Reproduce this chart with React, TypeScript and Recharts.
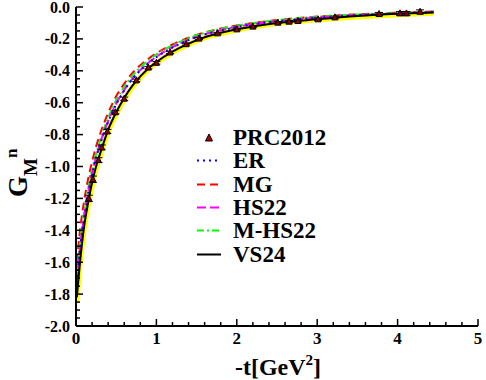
import React from 'react';
import { ComposedChart, Line, Scatter, ErrorBar, XAxis, YAxis, Legend } from 'recharts';

// -t grid (GeV^2) used by all model curves
const tGrid = [0.01, 0.05, 0.1, 0.15, 0.2, 0.25, 0.3, 0.4, 0.5, 0.6, 0.7, 0.8, 0.9, 1.0, 1.2, 1.4, 1.6, 1.8, 2.0, 2.5, 3.0, 3.5, 4.0, 4.45];

const bandValues = [-1.85, -1.62, -1.4, -1.25, -1.125, -1.015, -0.935, -0.783, -0.672, -0.58, -0.503, -0.442, -0.391, -0.35, -0.285, -0.235, -0.194, -0.166, -0.144, -0.104, -0.08, -0.062, -0.048, -0.039];
const erValues = [-1.73, -1.52, -1.33, -1.175, -1.05, -0.945, -0.86, -0.72, -0.61, -0.523, -0.453, -0.398, -0.352, -0.314, -0.254, -0.208, -0.173, -0.147, -0.126, -0.09, -0.067, -0.052, -0.041, -0.033];
const mgValues = [-1.6, -1.4, -1.22, -1.08, -0.97, -0.875, -0.795, -0.665, -0.56, -0.48, -0.415, -0.365, -0.325, -0.29, -0.235, -0.193, -0.16, -0.135, -0.116, -0.082, -0.06, -0.046, -0.035, -0.028];
const hs22Values = [-1.72, -1.51, -1.32, -1.17, -1.045, -0.94, -0.855, -0.715, -0.605, -0.52, -0.45, -0.395, -0.35, -0.312, -0.252, -0.206, -0.171, -0.145, -0.124, -0.089, -0.066, -0.051, -0.04, -0.032];
const mhs22Values = [-1.7, -1.48, -1.29, -1.14, -1.02, -0.92, -0.835, -0.695, -0.585, -0.5, -0.432, -0.378, -0.335, -0.298, -0.24, -0.196, -0.162, -0.137, -0.117, -0.083, -0.061, -0.047, -0.036, -0.029];
const vs24Values = [-1.82, -1.6, -1.38, -1.23, -1.1, -1.0, -0.92, -0.77, -0.66, -0.57, -0.495, -0.435, -0.385, -0.345, -0.28, -0.23, -0.19, -0.162, -0.14, -0.1, -0.077, -0.057, -0.043, -0.034];

// PRC2012 data points
const prcT = [0.16, 0.21, 0.28, 0.32, 0.39, 0.49, 0.6, 0.75, 0.9, 1.0, 1.17, 1.37, 1.53, 1.76, 2.0, 2.2, 2.51, 2.65, 2.76, 3.01, 3.22, 3.77, 4.03, 4.11, 4.28];
const prcG = [-1.2, -1.08, -0.96, -0.88, -0.78, -0.66, -0.575, -0.46, -0.38, -0.35, -0.285, -0.233, -0.198, -0.165, -0.14, -0.123, -0.098, -0.092, -0.088, -0.077, -0.065, -0.044, -0.04, -0.04, -0.03];
const prcErr = [0.02, 0.02, 0.015, 0.015, 0.012, 0.01, 0.01, 0.008, 0.008, 0.008, 0.007, 0.006, 0.006, 0.006, 0.006, 0.006, 0.007, 0.007, 0.007, 0.008, 0.008, 0.01, 0.012, 0.012, 0.012];

const xTicks = Array.from({ length: 26 }, (_, i) => Math.round(i * 0.2 * 100) / 100);
const yTicks = Array.from({ length: 41 }, (_, i) => Math.round((-2 + i * 0.05) * 100) / 100);

const serif = 'Liberation Serif, Times New Roman, DejaVu Serif, serif';

const toLine = (vals: number[]) => tGrid.map((t, i) => ({ t, g: vals[i] }));
const prcData = prcT.map((t, i) => ({ t, g: prcG[i], err: prcErr[i] }));

const isMajorX = (v: number) => Math.abs(v - Math.round(v)) < 1e-6;
const isMajorY = (v: number) => Math.abs(v * 5 - Math.round(v * 5)) < 1e-6;

const txt = { fontFamily: serif, fontWeight: 700 };

const BottomTick = ({ x, y, payload }: any) => {
  const v = payload.value;
  const major = isMajorX(v);
  return (
    <g>
      <line x1={x} x2={x} y1={y} y2={y - (major ? 7 : 4)} stroke="#000" strokeWidth={1.5} />
      {major && (
        <text x={x} y={y + 18} textAnchor="middle" style={{ ...txt, fontSize: 17 }} fill="#000">
          {v}
        </text>
      )}
    </g>
  );
};

const TopTick = ({ x, y, payload }: any) => {
  const major = isMajorX(payload.value);
  return <line x1={x} x2={x} y1={y} y2={y + (major ? 7 : 4)} stroke="#000" strokeWidth={1.5} />;
};

const LeftTick = ({ x, y, payload }: any) => {
  const v = payload.value;
  const major = isMajorY(v);
  return (
    <g>
      <line x1={x} x2={x + (major ? 7 : 4)} y1={y} y2={y} stroke="#000" strokeWidth={1.5} />
      {major && (
        <text x={x - 6} y={y + 5.5} textAnchor="end" style={{ ...txt, fontSize: 16 }} fill="#000">
          {v.toFixed(1)}
        </text>
      )}
    </g>
  );
};

const RightTick = ({ x, y, payload }: any) => {
  const major = isMajorY(payload.value);
  return <line x1={x} x2={x - (major ? 7 : 4)} y1={y} y2={y} stroke="#000" strokeWidth={1.5} />;
};

const YTitle = () => (
  <text transform="translate(27,197) rotate(-90)" style={txt} fill="#000">
    <tspan style={{ fontSize: 27 }}>G</tspan>
    <tspan style={{ fontSize: 19 }} dy={10}>M</tspan>
    <tspan style={{ fontSize: 17 }} dy={-20}>n</tspan>
  </text>
);

const XTitle = () => (
  <text x={278} y={375} textAnchor="middle" style={{ ...txt, fontSize: 24 }} fill="#000">
    -t[GeV<tspan style={{ fontSize: 15 }} dy={-10}>2</tspan>
    <tspan dy={10}>]</tspan>
  </text>
);

const PanelTag = () => (
  <text x={475} y={27} textAnchor="end" style={{ ...txt, fontSize: 20 }} fill="#000">
    (d)
  </text>
);

const Triangle = ({ cx, cy }: any) => (
  <polygon
    points={`${cx},${cy - 3.5} ${cx - 3},${cy + 2.5} ${cx + 3},${cy + 2.5}`}
    fill="#8b0000"
    stroke="#000"
    strokeWidth={1}
  />
);

const legendItems = [
  { name: 'PRC2012', kind: 'marker', color: '#b00000', dash: '' },
  { name: 'ER', kind: 'line', color: '#0000ff', dash: '2 4' },
  { name: 'MG', kind: 'line', color: '#ff0000', dash: '8 5' },
  { name: 'HS22', kind: 'line', color: '#ff00ff', dash: '9 4' },
  { name: 'M-HS22', kind: 'line', color: '#00ff00', dash: '7 3 2 3' },
  { name: 'VS24', kind: 'line', color: '#000000', dash: '' },
];

const LegendBox = () => (
  <div style={{ ...txt, fontSize: 23, color: '#000' }}>
    {legendItems.map((it) => (
      <div key={it.name} style={{ display: 'flex', alignItems: 'center', height: 23.3, lineHeight: '23px' }}>
        <svg width={43} height={23} style={{ flex: 'none' }}>
          {it.kind === 'marker' ? (
            <polygon points="19,8 15.5,15 22.5,15" fill={it.color} stroke="#000" strokeWidth={1} />
          ) : (
            <line x1={7} x2={31} y1={11.5} y2={11.5} stroke={it.color} strokeWidth={2} strokeDasharray={it.dash || undefined} />
          )}
        </svg>
        <span>{it.name}</span>
      </div>
    ))}
  </div>
);

export default function App() {
  return (
    <div style={{ position: 'absolute', left: 0, top: 0, width: 486, height: 380, background: '#fff' }}>
      <ComposedChart width={486} height={380} margin={{ top: 7, right: 8, bottom: 24, left: 0 }}>
        <XAxis
          xAxisId="b"
          type="number"
          dataKey="t"
          domain={[0, 5]}
          allowDataOverflow
          ticks={xTicks}
          interval={0}
          tickSize={0}
          tickMargin={0}
          tickLine={false}
          tick={<BottomTick />}
          axisLine={{ stroke: '#000', strokeWidth: 2 }}
          height={30}
          label={<XTitle />}
        />
        <XAxis
          xAxisId="top"
          orientation="top"
          type="number"
          domain={[0, 5]}
          allowDataOverflow
          ticks={xTicks}
          interval={0}
          tickSize={0}
          tickMargin={0}
          tickLine={false}
          tick={<TopTick />}
          axisLine={{ stroke: '#000', strokeWidth: 2 }}
          height={0}
          label={<PanelTag />}
        />
        <YAxis
          yAxisId="l"
          type="number"
          dataKey="g"
          domain={[-2, 0]}
          allowDataOverflow
          ticks={yTicks}
          interval={0}
          tickSize={0}
          tickMargin={0}
          tickLine={false}
          tick={<LeftTick />}
          axisLine={{ stroke: '#000', strokeWidth: 2 }}
          width={76}
          label={<YTitle />}
        />
        <YAxis
          yAxisId="r"
          orientation="right"
          type="number"
          domain={[-2, 0]}
          allowDataOverflow
          ticks={yTicks}
          interval={0}
          tickSize={0}
          tickMargin={0}
          tickLine={false}
          tick={<RightTick />}
          axisLine={{ stroke: '#000', strokeWidth: 2 }}
          width={0}
        />
        <Line xAxisId="b" yAxisId="l" data={toLine(bandValues)} dataKey="g" type="monotone" stroke="#ffff00" strokeWidth={5} dot={false} isAnimationActive={false} legendType="none" />
        <Line xAxisId="b" yAxisId="l" data={toLine(mgValues)} dataKey="g" name="MG" type="monotone" stroke="#ff0000" strokeWidth={2} strokeDasharray="8 5" dot={false} isAnimationActive={false} />
        <Line xAxisId="b" yAxisId="l" data={toLine(mhs22Values)} dataKey="g" name="M-HS22" type="monotone" stroke="#00ff00" strokeWidth={2} strokeDasharray="7 3 2 3" dot={false} isAnimationActive={false} />
        <Line xAxisId="b" yAxisId="l" data={toLine(hs22Values)} dataKey="g" name="HS22" type="monotone" stroke="#ff00ff" strokeWidth={2} strokeDasharray="9 4" dot={false} isAnimationActive={false} />
        <Line xAxisId="b" yAxisId="l" data={toLine(erValues)} dataKey="g" name="ER" type="monotone" stroke="#0000ff" strokeWidth={2} strokeDasharray="2 4" dot={false} isAnimationActive={false} />
        <Line xAxisId="b" yAxisId="l" data={toLine(vs24Values)} dataKey="g" name="VS24" type="monotone" stroke="#000000" strokeWidth={2} dot={false} isAnimationActive={false} />
        <Scatter xAxisId="b" yAxisId="l" data={prcData} dataKey="g" name="PRC2012" shape={<Triangle />} isAnimationActive={false}>
          <ErrorBar dataKey="err" direction="y" width={4} stroke="#000" strokeWidth={1} isAnimationActive={false} />
        </Scatter>
        <Legend
          layout="vertical"
          align="center"
          verticalAlign="middle"
          wrapperStyle={{ left: 190, top: 126, width: 200 }}
          content={() => <LegendBox />}
        />
      </ComposedChart>
    </div>
  );
}
